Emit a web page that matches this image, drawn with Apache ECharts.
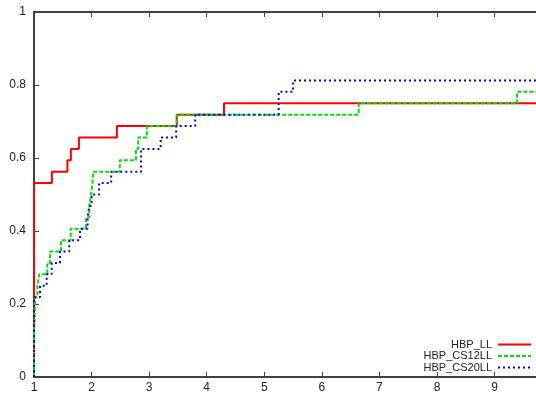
<!DOCTYPE html>
<html>
<head>
<meta charset="utf-8">
<script src="https://cdn.jsdelivr.net/npm/echarts@6/dist/echarts.min.js"></script>
<style>
html,body{margin:0;padding:0;background:#fff;}
#c{width:536px;height:394px;}
</style>
</head>
<body>
<div id="c"></div>
<script>
const seriesNames = ['HBP_LL', 'HBP_CS12LL', 'HBP_CS20LL'];
const xTicks = [1, 2, 3, 4, 5, 6, 7, 8, 9];
const yTicks = [0, 0.2, 0.4, 0.6, 0.8, 1];
const xMin = 1, xMax = 9.72;

// step points: value becomes y[i] at x[i]
const redX = [1, 1, 1.31, 1.58, 1.64, 1.78, 2.44, 3.48, 4.30];
const redY = [0, 0.53125, 0.5625, 0.59375, 0.625, 0.65625, 0.6875, 0.71875, 0.75];

const greenX = [1, 1, 1.01, 1.015, 1.02, 1.06, 1.092, 1.231, 1.278, 1.469, 1.637, 1.903, 1.96, 1.99, 2.015, 2.03, 2.49, 2.77, 2.81, 2.96, 3.48, 6.64, 9.39];
const greenY = [0, 0.125, 0.15625, 0.1875, 0.21875, 0.25, 0.28125, 0.3125, 0.34375, 0.375, 0.40625, 0.4375, 0.46875, 0.5, 0.53125, 0.5625, 0.59375, 0.625, 0.65625, 0.6875, 0.71875, 0.75, 0.78125];

const blueX = [1, 1, 1.104, 1.22, 1.307, 1.451, 1.613, 1.799, 1.93, 1.96, 2.0, 2.13, 2.34, 2.86, 3.2, 3.47, 3.80, 5.25, 5.50];
const blueY = [0, 0.21875, 0.25, 0.28125, 0.3125, 0.34375, 0.375, 0.40625, 0.4375, 0.46875, 0.5, 0.53125, 0.5625, 0.625, 0.65625, 0.6875, 0.71875, 0.78125, 0.8125];

function build(xs, ys) {
  const d = xs.map((x, i) => [x, ys[i]]);
  d.push([xMax, ys[ys.length - 1]]);
  return d;
}

const font = 'Liberation Sans, Arial, sans-serif';
const chart = echarts.init(document.getElementById('c'), null, {renderer: 'canvas'});
const axisCommon = {
  type: 'value', min: xMin, max: xMax, interval: 1,
  axisLine: {show: true, lineStyle: {color: '#000', width: 1.5}},
  axisTick: {show: true, inside: true, length: 5, lineStyle: {color: '#444', width: 1}},
  splitLine: {show: false}
};
chart.setOption({
  animation: false,
  backgroundColor: '#fff',
  grid: {left: 34, right: 0, top: 12, bottom: 17, containLabel: false},
  legend: {
    orient: 'vertical', right: 4, bottom: 21, align: 'right', padding: 0,
    itemWidth: 33, itemHeight: 8, itemGap: 0.5,
    itemStyle: {opacity: 0},
    textStyle: {fontFamily: font, fontSize: 11, color: '#222', lineHeight: 11, padding: [0, 1, 0, 0]},
    data: seriesNames
  },
  xAxis: [
    Object.assign({}, axisCommon, {
      position: 'bottom',
      axisLabel: {show: true, margin: 5, fontFamily: font, fontSize: 12, color: '#222', showMaxLabel: false,
        formatter: v => (xTicks.indexOf(v) >= 0 ? String(v) : '')}
    }),
    Object.assign({}, axisCommon, {
      position: 'top',
      axisLabel: {show: false}
    })
  ],
  yAxis: {
    type: 'value', min: 0, max: 1, interval: 0.2,
    axisLine: {show: true, lineStyle: {color: '#000', width: 1.5}},
    axisTick: {show: true, inside: true, length: 5, lineStyle: {color: '#444', width: 1}},
    splitLine: {show: false},
    axisLabel: {margin: 8, fontFamily: font, fontSize: 12, color: '#222',
      formatter: v => { const t = yTicks.find(k => Math.abs(k - v) < 1e-9); return t === undefined ? '' : String(t); }}
  },
  series: [
    {name: seriesNames[0], type: 'line', step: 'end', symbol: 'none', data: build(redX, redY),
      lineStyle: {color: '#ff0000', width: 2, type: 'solid'}, itemStyle: {color: '#ff0000'}, z: 3},
    {name: seriesNames[1], type: 'line', step: 'end', symbol: 'none', data: build(greenX, greenY),
      lineStyle: {color: '#00e000', width: 2, type: [4, 2]}, itemStyle: {color: '#00e000'}, z: 4},
    {name: seriesNames[2], type: 'line', step: 'end', symbol: 'none', data: build(blueX, blueY),
      lineStyle: {color: '#0000ff', width: 2, type: [2, 3]}, itemStyle: {color: '#0000ff'}, z: 5}
  ]
});
</script>
</body>
</html>
